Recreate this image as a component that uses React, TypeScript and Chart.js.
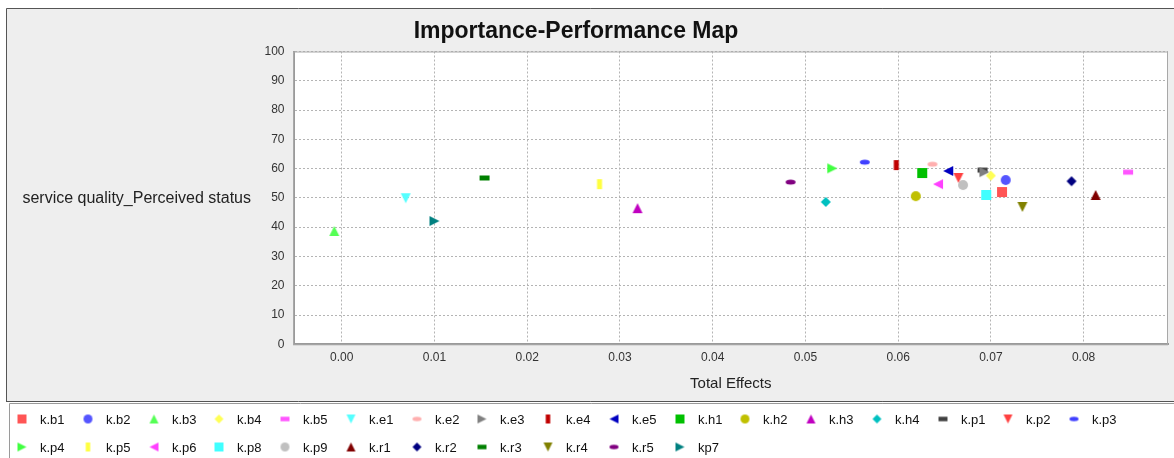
import React, { useEffect, useRef } from "react";
import { Chart, registerables } from "chart.js";

Chart.register(...registerables);

// ---- data ----
const seriesNames = [
  "k.b1", "k.b2", "k.b3", "k.b4", "k.b5", "k.e1", "k.e2", "k.e3", "k.e4", "k.e5",
  "k.h1", "k.h2", "k.h3", "k.h4", "k.p1", "k.p2", "k.p3", "k.p4", "k.p5", "k.p6",
  "k.p8", "k.p9", "k.r1", "k.r2", "k.r3", "k.r4", "k.r5", "kp7",
];
const totalEffects = [
  0.0712, 0.0716, -0.0008, 0.0700, 0.0848, 0.0069, 0.0637, 0.0693, 0.0598, 0.0654,
  0.0626, 0.0619, 0.0319, 0.0522, 0.0691, 0.0665, 0.0564, 0.0529, 0.0278, 0.0643,
  0.0695, 0.0670, 0.0813, 0.0787, 0.0154, 0.0734, 0.0484, 0.0100,
];
const performance = [
  52.0, 56.1, 38.7, 57.6, 58.8, 49.9, 61.5, 58.8, 61.2, 59.2,
  58.5, 50.6, 46.5, 48.6, 59.5, 56.8, 62.2, 60.1, 54.7, 54.7,
  51.0, 54.4, 51.0, 55.7, 56.8, 46.9, 55.4, 42.1,
];
const xTickValues = [0, 0.01, 0.02, 0.03, 0.04, 0.05, 0.06, 0.07, 0.08];
const yTickValues = [0, 10, 20, 30, 40, 50, 60, 70, 80, 90, 100];

const chartTitle = "Importance-Performance Map";
const xAxisTitle = "Total Effects";
const yAxisTitle = "service quality_Perceived status";

// ---- styles ----
const palette = [
  "#ff5555", "#5555ff", "#55ff55", "#ffff55", "#ff55ff", "#55ffff", "#ffafaf", "#808080",
  "#c00000", "#0000c0", "#00c000", "#c0c000", "#c000c0", "#00c0c0", "#404040", "#ff4040",
  "#4040ff", "#40ff40", "#ffff40", "#ff40ff", "#40ffff", "#c0c0c0", "#800000", "#000080",
  "#008000", "#808000", "#800080", "#008080",
];
const shapeCycle = ["square", "circle", "up", "diamond", "hrect", "down", "ellipse", "right", "vrect", "left"];

const FONT = "'Liberation Sans', Arial, sans-serif";

function makeMarker(shape: string, color: string, d: number): HTMLCanvasElement {
  const c = document.createElement("canvas");
  const s = Math.ceil(2 * d + 2);
  c.width = s;
  c.height = s;
  const ctx = c.getContext("2d")!;
  ctx.fillStyle = color;
  const cx = s / 2;
  const cy = s / 2;
  ctx.beginPath();
  switch (shape) {
    case "square":
      ctx.rect(cx - d, cy - d, 2 * d, 2 * d);
      break;
    case "circle":
      ctx.arc(cx, cy, d, 0, Math.PI * 2);
      break;
    case "up":
      ctx.moveTo(cx, cy - d);
      ctx.lineTo(cx + d, cy + d);
      ctx.lineTo(cx - d, cy + d);
      break;
    case "down":
      ctx.moveTo(cx - d, cy - d);
      ctx.lineTo(cx + d, cy - d);
      ctx.lineTo(cx, cy + d);
      break;
    case "right":
      ctx.moveTo(cx - d, cy - d);
      ctx.lineTo(cx + d, cy);
      ctx.lineTo(cx - d, cy + d);
      break;
    case "left":
      ctx.moveTo(cx + d, cy - d);
      ctx.lineTo(cx - d, cy);
      ctx.lineTo(cx + d, cy + d);
      break;
    case "diamond":
      ctx.moveTo(cx, cy - d);
      ctx.lineTo(cx + d, cy);
      ctx.lineTo(cx, cy + d);
      ctx.lineTo(cx - d, cy);
      break;
    case "hrect":
      ctx.rect(cx - d, cy - d / 2, 2 * d, d);
      break;
    case "vrect":
      ctx.rect(cx - d / 2, cy - d, d, 2 * d);
      break;
    case "ellipse":
      ctx.ellipse(cx, cy, d, d / 2, 0, 0, Math.PI * 2);
      break;
  }
  ctx.closePath();
  ctx.fill();
  return c;
}

export default function App() {
  const ref = useRef<HTMLCanvasElement | null>(null);

  useEffect(() => {
    if (!ref.current) return;
    const plotMarkers = seriesNames.map((_, i) => makeMarker(shapeCycle[i % 10], palette[i], 5));
    const legendMarkers = seriesNames.map((_, i) => makeMarker(shapeCycle[i % 10], palette[i], 4.5));

    const backgroundPlugin = {
      id: "bg",
      beforeDraw(chart: any) {
        const { ctx, chartArea: a } = chart;
        ctx.save();
        ctx.fillStyle = "#ffffff";
        ctx.fillRect(0, 0, chart.width, chart.height);
        // main gray panel
        ctx.fillStyle = "#eeeeee";
        ctx.fillRect(6, 8, chart.width - 6, 394);
        ctx.strokeStyle = "#555555";
        ctx.lineWidth = 1;
        ctx.beginPath();
        ctx.moveTo(6.5, 402);
        ctx.lineTo(6.5, 8.5);
        ctx.lineTo(chart.width, 8.5);
        ctx.stroke();
        ctx.beginPath();
        ctx.moveTo(6.5, 401.5);
        ctx.lineTo(chart.width, 401.5);
        ctx.stroke();
        // legend box
        ctx.fillStyle = "#ffffff";
        ctx.fillRect(9, 403, chart.width - 9, chart.height - 403);
        ctx.strokeStyle = "#9a9a9a";
        ctx.beginPath();
        ctx.moveTo(9.5, chart.height);
        ctx.lineTo(9.5, 403.5);
        ctx.lineTo(chart.width, 403.5);
        ctx.stroke();
        // plot area
        ctx.fillStyle = "#ffffff";
        ctx.fillRect(a.left, a.top, a.right - a.left, a.bottom - a.top);
        ctx.restore();
      },
      afterDraw(chart: any) {
        const { ctx, chartArea: a } = chart;
        ctx.save();
        // frame
        ctx.strokeStyle = "#a8a8a8";
        ctx.lineWidth = 1;
        ctx.strokeRect(a.left, a.top + 0.5, a.right - a.left - 0.5, a.bottom - a.top);
        // title
        ctx.fillStyle = "#111111";
        ctx.font = `bold 23px ${FONT}`;
        ctx.textAlign = "center";
        ctx.textBaseline = "middle";
        ctx.fillText(chartTitle, 576, 32);
        // y axis title (horizontal)
        ctx.font = `16px ${FONT}`;
        ctx.fillStyle = "#222222";
        ctx.textAlign = "right";
        ctx.fillText(yAxisTitle, 251, 199);
        // legend
        ctx.font = `13px ${FONT}`;
        ctx.textAlign = "left";
        ctx.fillStyle = "#111111";
        seriesNames.forEach((name, i) => {
          const row = i < 17 ? 0 : 1;
          const col = row === 0 ? i : i - 17;
          const mx = Math.round(22 + col * 65.75);
          const my = row === 0 ? 419 : 447;
          const m = legendMarkers[i];
          ctx.drawImage(m, mx - m.width / 2, my - m.height / 2);
          ctx.fillText(name, mx + 18, my + 1);
        });
        ctx.restore();
      },
    };

    const gridOpts: any = {
      color: "#b4b4b4",
      lineWidth: 1,
      drawTicks: false,
      borderDash: [2, 2],
    };

    const chart = new Chart(ref.current, {
      type: "scatter",
      data: {
        datasets: seriesNames.map((name, i) => ({
          label: name,
          data: [{ x: totalEffects[i], y: performance[i] }],
          pointStyle: plotMarkers[i] as any,
          pointRadius: 5,
          backgroundColor: palette[i],
          borderColor: palette[i],
        })),
      },
      options: {
        animation: false,
        responsive: false,
        devicePixelRatio: 1,
        events: [],
        layout: { padding: { left: 0, right: 5, top: 51.5, bottom: 65 } },
        plugins: {
          legend: { display: false },
          title: { display: false },
          tooltip: { enabled: false },
        },
        scales: {
          x: {
            type: "linear",
            position: "bottom",
            min: -0.0052,
            max: 0.0891,
            afterBuildTicks: (s: any) => {
              s.ticks = xTickValues.map((v) => ({ value: v }));
            },
            afterFit: (s: any) => {
              s.height = 48.7;
            },
            ticks: {
              autoSkip: false,
              maxRotation: 0,
              padding: 6,
              color: "#333333",
              font: { family: FONT, size: 12 },
              callback: (v: any) => Number(v).toFixed(2),
            },
            grid: gridOpts,
            border: { display: true, color: "#9a9a9a", width: 2, dash: [2, 2] },
            title: {
              display: true,
              text: xAxisTitle,
              color: "#222222",
              padding: 0,
              font: { family: FONT, size: 15 },
            },
          },
          y: {
            type: "linear",
            min: 0,
            max: 100,
            afterBuildTicks: (s: any) => {
              s.ticks = yTickValues.map((v) => ({ value: v }));
            },
            afterFit: (s: any) => {
              s.width = 293.5;
            },
            ticks: {
              padding: 9,
              color: "#333333",
              font: { family: FONT, size: 12 },
            },
            grid: gridOpts,
            border: { display: true, color: "#9a9a9a", width: 2, dash: [2, 2] },
          },
        },
      } as any,
      plugins: [backgroundPlugin],
    });
    return () => chart.destroy();
  }, []);

  return (
    <div style={{ position: "fixed", left: 0, top: 0, width: 1174, height: 458 }}>
      <canvas ref={ref} width={1174} height={458} style={{ display: "block" }} />
    </div>
  );
}
